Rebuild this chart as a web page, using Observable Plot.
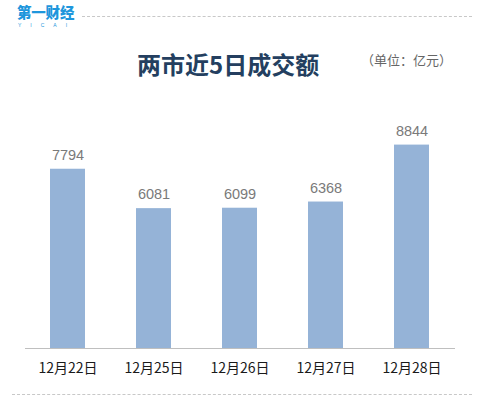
<!DOCTYPE html>
<html>
<head>
<meta charset="utf-8">
<script src="https://cdn.jsdelivr.net/npm/d3@7"></script>
<script src="https://cdn.jsdelivr.net/npm/@observablehq/plot@0.6"></script>
<style>
  html, body { margin: 0; padding: 0; background: #fff; }
  #wrap { position: relative; width: 486px; height: 416px; overflow: hidden; font-family: "Noto Sans CJK SC", sans-serif; }
  .abs { position: absolute; white-space: nowrap; }
  #logo { left: 17px; top: 5px; color: #1e96dc; font-weight: 900; font-size: 14.5px; line-height: 14px; letter-spacing: -0.2px; }
  #logo-sub { left: 18px; top: 23px; color: #1e96dc; font-family: "Liberation Sans", sans-serif; font-size: 5px; letter-spacing: 9px; line-height: 5px; }
  .dash { position: absolute; height: 0; border-top: 1px dashed #c8c8c8; }
  #title { left: 137px; top: 49px; color: #243f60; font-weight: 700; font-size: 24px; line-height: 30px; }
  #unit { left: 361px; top: 51px; color: #666; font-size: 13px; line-height: 18px; }
  #chart { position: absolute; left: 0; top: 0; }
</style>
</head>
<body>
<div id="wrap">
  <div class="abs" id="logo">第一财经</div>
  <div class="abs" id="logo-sub">YICAI</div>
  <div class="dash" style="left:82px; top:16px; width:390px;"></div>
  <div class="abs" id="title">两市近5日成交额</div>
  <div class="abs" id="unit">（单位：亿元）</div>
  <div class="dash" style="left:12px; top:394px; width:460px;"></div>
  <div id="chart"></div>
</div>
<script>
// Trading days and combined turnover of the two exchanges (100 million yuan)
const dates = ["12月22日", "12月25日", "12月26日", "12月27日", "12月28日"];
const turnover = [7794, 6081, 6099, 6368, 8844];

const rows = dates.map((d, i) => ({date: d, value: turnover[i]}));

const chart = Plot.plot({
  width: 486,
  height: 416,
  marginTop: 118,
  marginBottom: 68,
  marginLeft: 25,
  marginRight: 31,
  style: {background: "transparent", fontFamily: "'Noto Sans CJK SC', sans-serif"},
  x: {domain: dates, paddingInner: 0.59, paddingOuter: 0.295, label: null},
  y: {domain: [0, 10000], axis: null},
  marks: [
    Plot.barY(rows, {x: "date", y: "value", fill: "#95b3d7"}),
    Plot.ruleY([0], {stroke: "#bfbfbf", strokeWidth: 1.2}),
    Plot.text(rows, {
      x: "date", y: "value", text: d => String(d.value), dy: -14,
      fill: "#7a7a7a", fontSize: 14.5, fontFamily: "'Liberation Sans', Arial, sans-serif"
    }),
    Plot.axisX({tickSize: 0, tickPadding: 15, fontSize: 14, color: "#1a1a1a"})
  ]
});
document.getElementById("chart").appendChild(chart);
</script>
</body>
</html>
